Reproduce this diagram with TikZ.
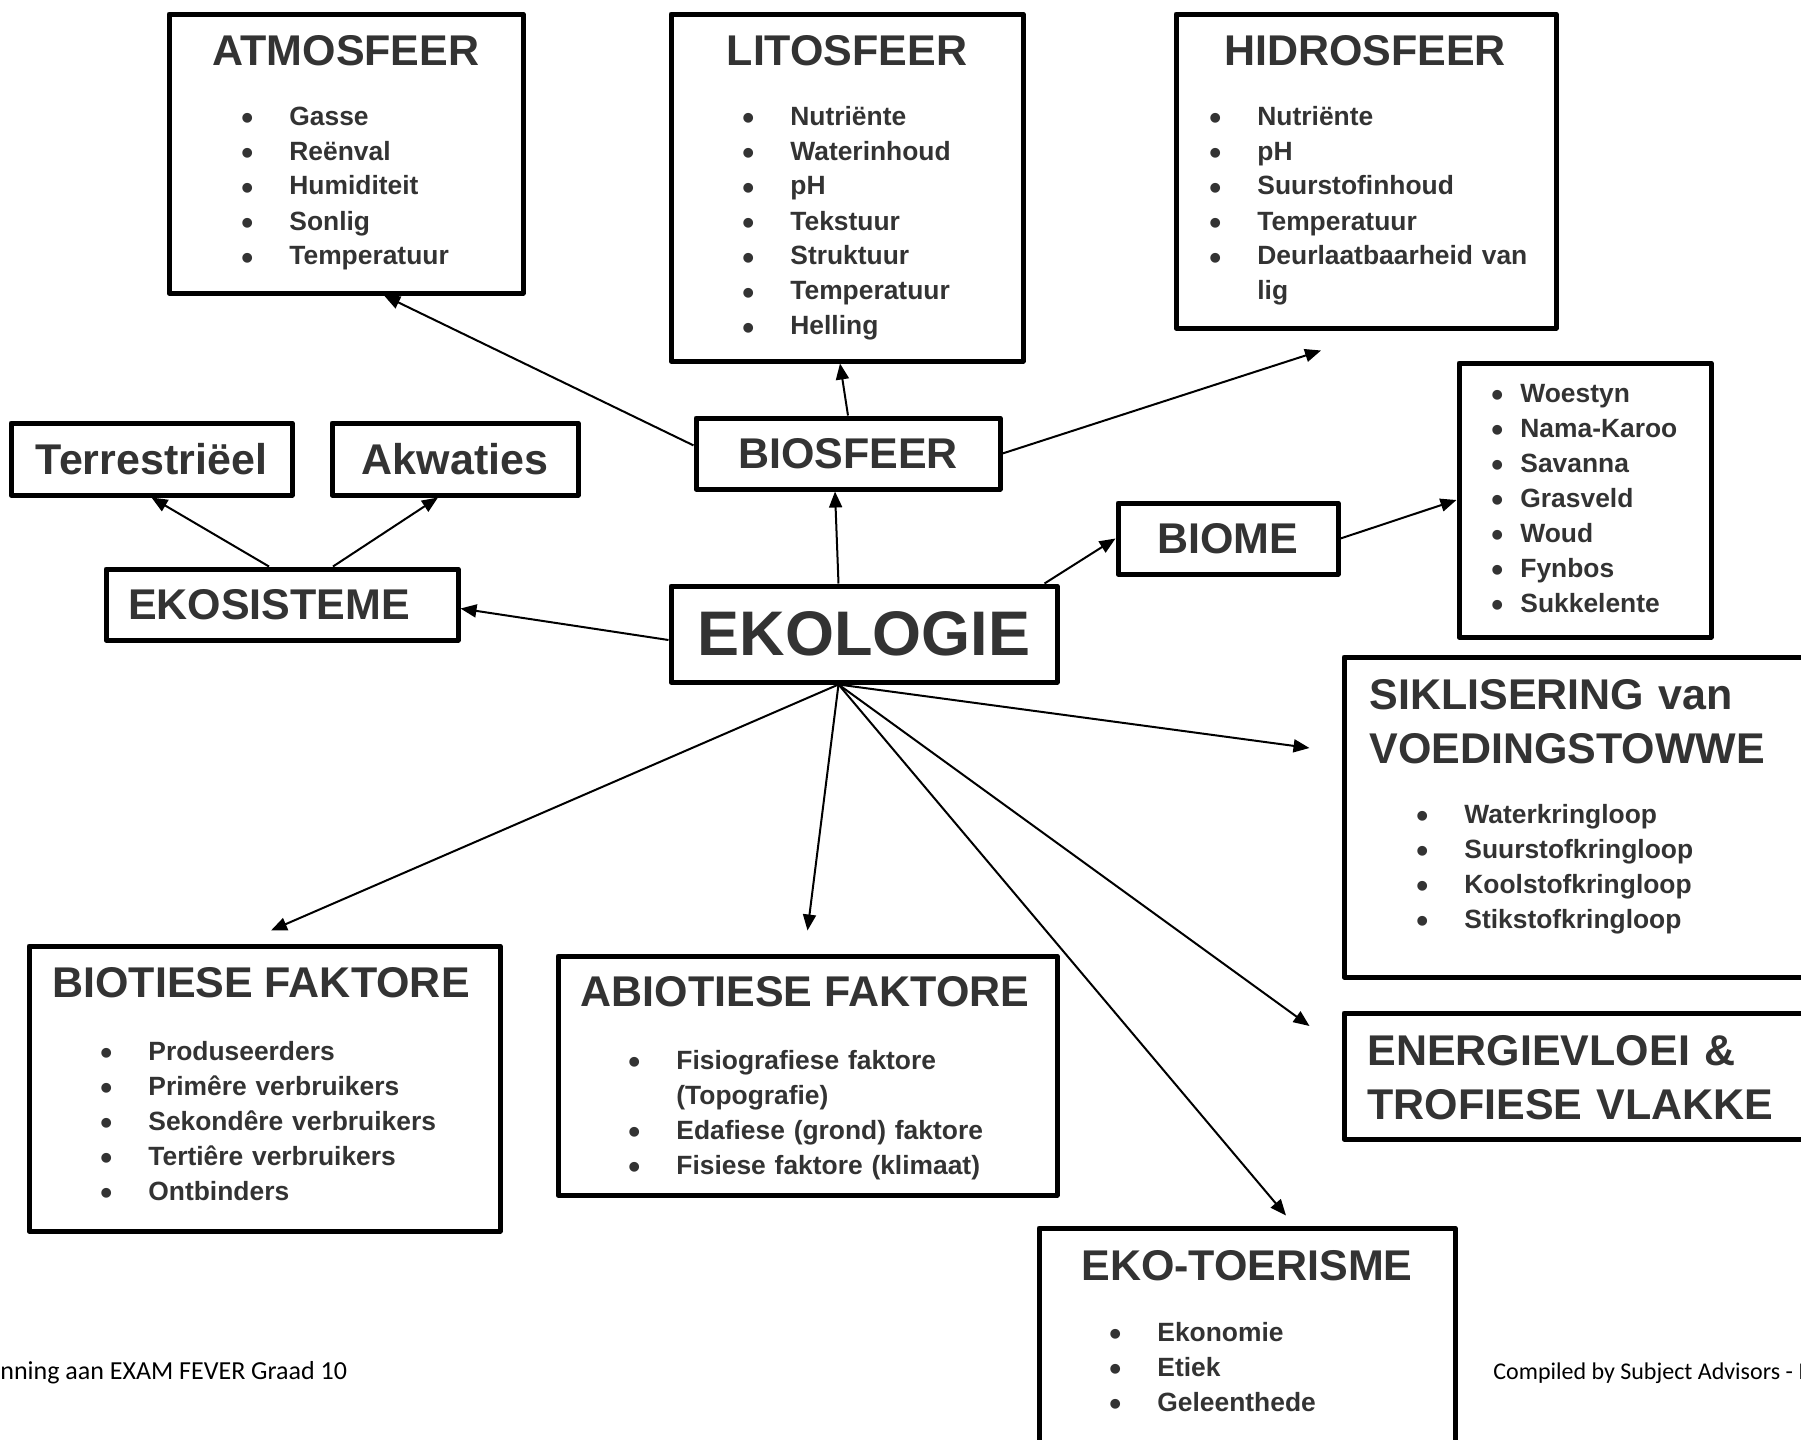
\documentclass[tikz,border=0pt]{standalone}
\usepackage{fontspec}
\setmainfont{Liberation Sans}
\newfontfamily\voetletter{Carlito}
\usetikzlibrary{positioning, arrows.meta, calc}
\definecolor{donkergrys}{RGB}{51,51,51}

% kolpunt met vaste inspringing
\newcommand{\punt}[2][24pt]{\makebox[#1][l]{\raisebox{-2.4pt}{\fontsize{17}{17}\selectfont •}}#2}

\begin{document}
\begin{tikzpicture}[x=0.5pt, y=-0.5pt,
    kader/.style={draw, line width=2.5pt, line join=round, inner sep=0pt},
    opskrif/.style={font=\bfseries\fontsize{21.5}{27}\selectfont, text=donkergrys, inner sep=0pt},
    lys/.style={font=\bfseries\fontsize{13.2}{17.5}\selectfont, text=donkergrys, inner sep=0pt,
        anchor=base west, text width=300pt, align=left},
    pyl/.style={-{Triangle[length=8pt, width=6.5pt]}, line width=1pt},
    voet/.style={font=\voetletter\fontsize{12}{14}\selectfont, inner sep=0pt, anchor=base west}]
    \useasboundingbox (0,0) rectangle (1801,1440);
    \clip (0,0) rectangle (1801,1440);

    % Sentrale begrip
    \node[kader, minimum width=193pt, minimum height=48pt, text=donkergrys,
        font=\bfseries\fontsize{31.5}{36}\selectfont] (ekol) at (864,634) {EKOLOGIE};

    % Enkel blokke
    \node[kader, opskrif, minimum width=152pt, minimum height=35.5pt] (bios) at (848,453.5) {BIOSFEER};
    \node[kader, opskrif, minimum width=176pt, minimum height=35.5pt] (ekos) at (282,604.5) {EKOSISTEME\hspace*{13pt}};
    \node[kader, opskrif, minimum width=140.5pt, minimum height=36pt] (terr) at (151.5,459) {Terrestriëel};
    \node[kader, opskrif, minimum width=123pt, minimum height=36pt] (akwa) at (455,459) {Akwaties};
    \node[kader, opskrif, minimum width=110pt, minimum height=35.5pt] (biome) at (1228,538.5) {BIOME};

    % Atmosfeer
    \node[kader, minimum width=177pt, minimum height=139.5pt] (atmos) at (346,153.5) {};
    \node[opskrif] (atmos-kop) at (346,50.5) {ATMOSFEER};
    \node[lys] (atmos-lys) at (241,125) {\punt{Gasse}\\\punt{Reënval}\\\punt{Humiditeit}\\
        \punt{Sonlig}\\\punt{Temperatuur}};

    % Litosfeer
    \node[kader, minimum width=176pt, minimum height=173.5pt] (lito) at (847,187.5) {};
    \node[opskrif] (lito-kop) at (847,50.5) {LITOSFEER};
    \node[lys] (lito-lys) at (742,125) {\punt{Nutriënte}\\\punt{Waterinhoud}\\\punt{pH}\\
        \punt{Tekstuur}\\\punt{Struktuur}\\\punt{Temperatuur}\\\punt{Helling}};

    % Hidrosfeer
    \node[kader, minimum width=190pt, minimum height=157pt] (hidro) at (1366,171) {};
    \node[opskrif] (hidro-kop) at (1365,50.5) {HIDROSFEER};
    \node[lys] (hidro-lys) at (1209,125) {\punt{Nutriënte}\\\punt{pH}\\\punt{Suurstofinhoud}\\
        \punt{Temperatuur}\\\punt{Deurlaatbaarheid van}\\\hspace*{24pt}lig};

    % Biome se lys
    \node[kader, minimum width=126pt, minimum height=137pt] (biolys) at (1585,500) {};
    \node[lys] (biolys-lys) at (1491,402) {\punt[14.5pt]{Woestyn}\\\punt[14.5pt]{Nama-Karoo}\\
        \punt[14.5pt]{Savanna}\\\punt[14.5pt]{Grasveld}\\\punt[14.5pt]{Woud}\\
        \punt[14.5pt]{Fynbos}\\\punt[14.5pt]{Sukkelente}};

    % Siklisering
    \node[kader, minimum width=243pt, minimum height=160pt] (sikl) at (1587,817) {};
    \node[opskrif, anchor=base west, text width=240pt, align=left] (sikl-kop) at (1369,709)
        {SIKLISERING van\\VOEDINGSTOWWE};
    \node[lys] (sikl-lys) at (1416,823) {\punt{Waterkringloop}\\\punt{Suurstofkringloop}\\
        \punt{Koolstofkringloop}\\\punt{Stikstofkringloop}};

    % Energievloei
    \node[kader, minimum width=243pt, minimum height=63pt] (energ) at (1587,1076) {};
    \node[opskrif, anchor=base west, text width=240pt, align=left] (energ-kop) at (1367,1065)
        {ENERGIEVLOEI \&\\TROFIESE VLAKKE};

    % Biotiese faktore
    \node[kader, minimum width=235.5pt, minimum height=142.5pt] (biot) at (264.5,1088.5) {};
    \node[opskrif] (biot-kop) at (261,983) {BIOTIESE FAKTORE};
    \node[lys] (biot-lys) at (100,1060) {\punt{Produseerders}\\\punt{Primêre verbruikers}\\
        \punt{Sekondêre verbruikers}\\\punt{Tertiêre verbruikers}\\\punt{Ontbinders}};

    % Abiotiese faktore
    \node[kader, minimum width=249.5pt, minimum height=119.5pt] (abiot) at (807.5,1075.5) {};
    \node[opskrif] (abiot-kop) at (805,992) {ABIOTIESE FAKTORE};
    \node[lys] (abiot-lys) at (628,1069) {\punt{Fisiografiese faktore}\\\hspace*{24pt}(Topografie)\\
        \punt{Edafiese (grond) faktore}\\\punt{Fisiese faktore (klimaat)}};

    % Eko-toerisme
    \node[kader, minimum width=208pt, minimum height=121pt] (ekot) at (1247,1349) {};
    \node[opskrif] (ekot-kop) at (1247,1266) {EKO-TOERISME};
    \node[lys] (ekot-lys) at (1109,1341) {\punt{Ekonomie}\\\punt{Etiek}\\\punt{Geleenthede}};

    % Pyle boontoe
    \draw[pyl] (bios.177) -- (atmos.-75.5);
    \draw[pyl] (bios.north) -- ([xshift=-3.5pt]lito.south);
    \draw[pyl] (bios.east) -- ([xshift=-22.5pt, yshift=-10pt]hidro.south);
    \draw[pyl] ([xshift=-6.5pt]ekos.north) -- (terr.south);
    \draw[pyl] ([xshift=25.5pt]ekos.north) -- ([xshift=-8.5pt]akwa.south);
    \draw[pyl] ([yshift=-3pt]ekol.west) -- ([yshift=-2pt]ekos.east);
    \draw[pyl] ([xshift=-12.75pt]ekol.north) -- ([xshift=-6.5pt]bios.south);
    \draw[pyl] ([xshift=-7.5pt]ekol.north east) -- (biome.west);
    \draw[pyl] (biome.east) -- (biolys.west);

    % Pyle ondertoe, almal uit een punt
    \coordinate (ekolvoet) at ([xshift=-12.75pt]ekol.south);
    \draw[pyl] (ekolvoet) -- ([xshift=-16pt, yshift=34.5pt]sikl.west);
    \draw[pyl] (ekolvoet) -- ([xshift=-16pt, yshift=25pt]energ.west);
    \draw[pyl] (ekolvoet) -- ([xshift=19.5pt, yshift=5pt]ekot.north);
    \draw[pyl] (ekolvoet) -- ([yshift=11.5pt]abiot.north);
    \draw[pyl] (ekolvoet) -- ([xshift=3.25pt, yshift=6.5pt]biot.north);

    % Voetskrif
    \node[voet, font=\voetletter\fontsize{13}{15}\selectfont] (voet-links) at (0,1379) {nning aan EXAM FEVER Graad 10};
    \node[voet] (voet-regs) at (1493,1379) {Compiled by Subject Advisors - I};
\end{tikzpicture}
\end{document}
